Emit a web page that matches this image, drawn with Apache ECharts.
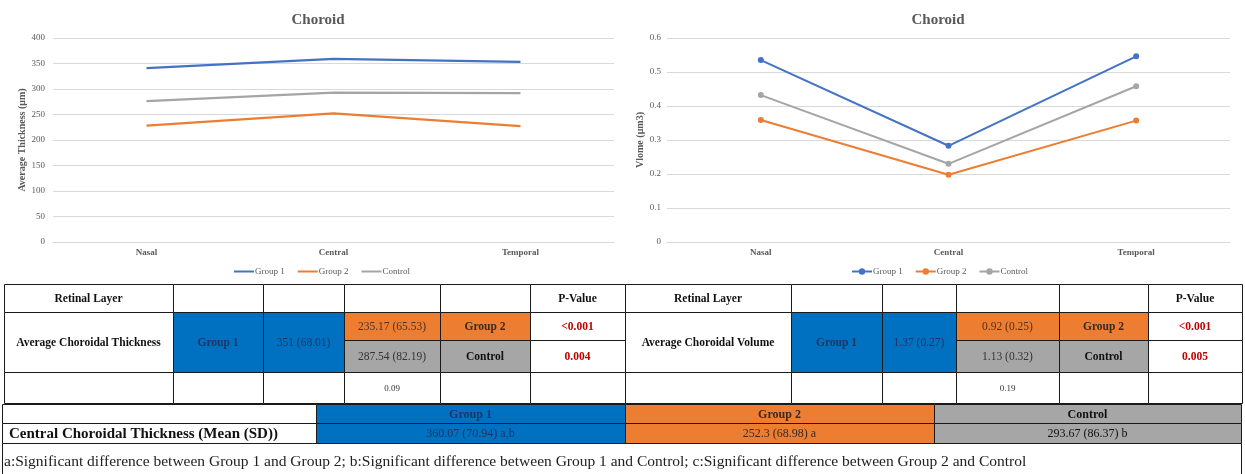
<!DOCTYPE html>
<html>
<head>
<meta charset="utf-8">
<script src="https://cdn.jsdelivr.net/npm/echarts@6/dist/echarts.min.js"></script>
<style>
  html, body { margin: 0; padding: 0; background: #fff; }
  #main { width: 1245px; height: 474px; }
</style>
</head>
<body>
<div id="main"></div>
<script>
// chart data
var regions = ['Nasal', 'Central', 'Temporal'];
var seriesNames = ['Group 1', 'Group 2', 'Control'];
var thickGroup1 = [341, 359, 353];
var thickGroup2 = [228, 252, 227];
var thickControl = [276, 293, 292];
var volGroup1 = [0.535, 0.283, 0.546];
var volGroup2 = [0.359, 0.198, 0.357];
var volControl = [0.432, 0.230, 0.458];

// table data (thickness table, volume table)
var tableLabels = ['Average Choroidal Thickness', 'Average Choroidal Volume'];
var group1Vals = ['351 (68.01)', '1.37 (0.27)'];
var group2Vals = ['235.17 (65.53)', '0.92 (0.25)'];
var controlVals = ['287.54 (82.19)', '1.13 (0.32)'];
var pGroup2 = ['<0.001', '<0.001'];
var pControl = ['0.004', '0.005'];
var pBetween = ['0.09', '0.19'];
var centralLabel = 'Central Choroidal Thickness (Mean (SD))';
var centralVals = ['360.07 (70.94) a,b', '252.3 (68.98) a', '293.67 (86.37) b'];
var footnote = 'a:Significant difference between Group 1 and Group 2; b:Significant difference between Group 1 and Control; c:Significant difference between Group 2 and Control';

var colors = ['#4472C4', '#ED7D31', '#A5A5A5'];
var SERIF = '"Liberation Serif", "Times New Roman", serif';

var myChart = echarts.init(document.getElementById('main'));

// ---- table helpers ----
var els = [];
function cell(x1, y1, x2, y2, fill, text, font, color) {
    els.push({
        type: 'rect', silent: true,
        shape: { x: x1 + 0.5, y: y1 + 0.5, width: x2 - x1, height: y2 - y1 },
        style: { fill: fill || '#fff', stroke: '#1a1a1a', lineWidth: 1 }
    });
    if (text) {
        els.push({
            type: 'text', silent: true,
            style: {
                text: text, x: (x1 + x2) / 2, y: (y1 + y2) / 2 + 1,
                textAlign: 'center', textVerticalAlign: 'middle',
                font: font, fill: color || '#222'
            }
        });
    }
}

var BLUE = '#0070C0', ORANGE = '#ED7D31', GRAY = '#A6A6A6';
var bold11 = 'bold 11.5px ' + SERIF, norm11 = '11.5px ' + SERIF;
var rows = [284, 312, 340, 372, 403];
var tableCols = [
    [4, 173, 263, 344, 440, 530, 625],
    [625, 791, 882, 956, 1059, 1148, 1242]
];

tableCols.forEach(function (c, t) {
    // header
    cell(c[0], rows[0], c[1], rows[1], '#fff', 'Retinal Layer', bold11, '#111');
    cell(c[1], rows[0], c[2], rows[1]);
    cell(c[2], rows[0], c[3], rows[1]);
    cell(c[3], rows[0], c[4], rows[1]);
    cell(c[4], rows[0], c[5], rows[1]);
    cell(c[5], rows[0], c[6], rows[1], '#fff', 'P-Value', bold11, '#111');
    // body
    cell(c[0], rows[1], c[1], rows[3], '#fff', tableLabels[t], bold11, '#111');
    cell(c[1], rows[1], c[2], rows[3], BLUE, 'Group 1', bold11, '#1d3664');
    cell(c[2], rows[1], c[3], rows[3], BLUE, group1Vals[t], norm11, '#1d3664');
    cell(c[3], rows[1], c[4], rows[2], ORANGE, group2Vals[t], norm11, '#4a3328');
    cell(c[4], rows[1], c[5], rows[2], ORANGE, 'Group 2', bold11, '#3a2a22');
    cell(c[5], rows[1], c[6], rows[2], '#fff', pGroup2[t], bold11, '#C00000');
    cell(c[3], rows[2], c[4], rows[3], GRAY, controlVals[t], norm11, '#333');
    cell(c[4], rows[2], c[5], rows[3], GRAY, 'Control', bold11, '#111');
    cell(c[5], rows[2], c[6], rows[3], '#fff', pControl[t], bold11, '#C00000');
    // bottom row
    cell(c[0], rows[3], c[1], rows[4]);
    cell(c[1], rows[3], c[2], rows[4]);
    cell(c[2], rows[3], c[3], rows[4]);
    cell(c[3], rows[3], c[4], rows[4], '#fff', pBetween[t], '9px ' + SERIF, '#333');
    cell(c[4], rows[3], c[5], rows[4]);
    cell(c[5], rows[3], c[6], rows[4]);
});

// central thickness table
var bc = [2, 316, 625, 934, 1241];
var br = [404, 423, 443];
var bFills = [BLUE, ORANGE, GRAY];
var bText = ['#1d3664', '#3a2a22', '#111'];
cell(bc[0], br[0], bc[1], br[1]);
cell(bc[0], br[1], bc[1], br[2]);
els.push({
    type: 'text', silent: true,
    style: { text: centralLabel, x: 9, y: (br[1] + br[2]) / 2 + 1, textAlign: 'left', textVerticalAlign: 'middle',
        font: 'bold 15px ' + SERIF, fill: '#111' }
});
for (var i = 0; i < 3; i++) {
    cell(bc[i + 1], br[0], bc[i + 2], br[1], bFills[i], seriesNames[i], 'bold 12px ' + SERIF, bText[i]);
    cell(bc[i + 1], br[1], bc[i + 2], br[2], bFills[i], centralVals[i], '12px ' + SERIF, bText[i]);
}
cell(bc[0], br[2], bc[4], 490);
els.push({
    type: 'text', silent: true,
    style: { text: footnote, x: 4, y: 462, textAlign: 'left', textVerticalAlign: 'middle',
        font: '15.5px ' + SERIF, fill: '#222' }
});

// ---- charts ----
var axisLabelStyle = { color: '#595959', fontSize: 9, fontFamily: SERIF };
function lineSeries(name, data, idx, withSymbol) {
    return {
        name: name, type: 'line', data: data,
        xAxisIndex: idx, yAxisIndex: idx,
        symbol: 'circle', symbolSize: 6,
        showSymbol: withSymbol,
        lineStyle: { width: withSymbol ? 2 : 2.25 },
        itemStyle: { color: colors[seriesNames.indexOf(name)] },
        emphasis: { disabled: true }
    };
}

var option = {
    backgroundColor: '#fff',
    animation: false,
    color: colors,
    title: [
        { text: 'Choroid', left: 313, top: 8, textAlign: 'center',
          textStyle: { color: '#595959', fontSize: 15, fontWeight: 'bold', fontFamily: SERIF } },
        { text: 'Choroid', left: 933, top: 8, textAlign: 'center',
          textStyle: { color: '#595959', fontSize: 15, fontWeight: 'bold', fontFamily: SERIF } }
    ],
    legend: [
        { data: seriesNames, left: 228, top: 262, itemWidth: 20, itemHeight: 8, itemGap: 12,
          itemStyle: { opacity: 0 },
          textStyle: { color: '#595959', fontSize: 9, fontFamily: SERIF, padding: [0, 0, 0, -4] } },
        { data: seriesNames, left: 846, top: 262, itemWidth: 20, itemHeight: 8, itemGap: 12,
          textStyle: { color: '#595959', fontSize: 9, fontFamily: SERIF, padding: [0, 0, 0, -4] } }
    ],
    grid: [
        { left: 53, right: 631, top: 38, bottom: 232 },
        { left: 667, right: 15, top: 38, bottom: 232 }
    ],
    xAxis: [0, 1].map(function (i) {
        return {
            type: 'category', gridIndex: i, data: regions,
            axisLine: { lineStyle: { color: '#D9D9D9' } },
            axisTick: { show: false },
            axisLabel: { color: '#595959', fontSize: 9, fontWeight: 'bold', fontFamily: SERIF, margin: 6 }
        };
    }),
    yAxis: [
        { type: 'value', gridIndex: 0, min: 0, max: 400, interval: 50,
          name: 'Average Thickness (μm)', nameLocation: 'middle', nameGap: 21,
          nameTextStyle: { color: '#595959', fontSize: 10, fontWeight: 'bold', fontFamily: SERIF },
          axisLabel: Object.assign({ margin: 8 }, axisLabelStyle),
          splitLine: { lineStyle: { color: '#D9D9D9' } } },
        { type: 'value', gridIndex: 1, min: 0, max: 0.6, interval: 0.1,
          name: 'Vlome (μm3)', nameLocation: 'middle', nameGap: 19,
          nameTextStyle: { color: '#595959', fontSize: 10, fontWeight: 'bold', fontFamily: SERIF },
          axisLabel: Object.assign({ margin: 6 }, axisLabelStyle),
          splitLine: { lineStyle: { color: '#D9D9D9' } } }
    ],
    series: [
        lineSeries('Group 1', thickGroup1, 0, false),
        lineSeries('Group 2', thickGroup2, 0, false),
        lineSeries('Control', thickControl, 0, false),
        lineSeries('Group 1', volGroup1, 1, true),
        lineSeries('Group 2', volGroup2, 1, true),
        lineSeries('Control', volControl, 1, true)
    ],
    graphic: { elements: els }
};

myChart.setOption(option);
window.onresize = function () {
    myChart.resize();
};
</script>
</body>
</html>
